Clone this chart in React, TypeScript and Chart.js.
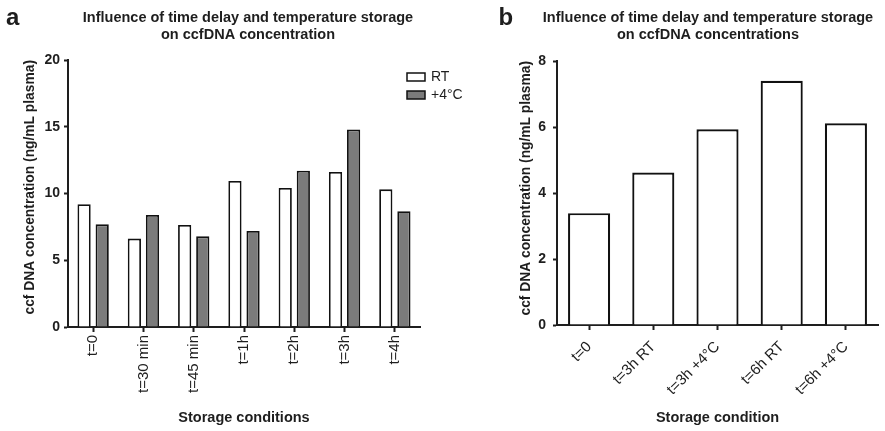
import React, { useEffect, useRef } from "react";
import { Chart, registerables } from "chart.js";

Chart.register(...registerables);

// ---------- Data ----------
const panelACategories = ["t=0", "t=30 min", "t=45 min", "t=1h", "t=2h", "t=3h", "t=4h"];
const panelASeriesNames = ["RT", "+4°C"];
const panelART = [9.19, 6.62, 7.64, 10.94, 10.41, 11.61, 10.31];
const panelA4C = [7.69, 8.39, 6.79, 7.19, 11.71, 14.79, 8.67];
const panelAYTicks = [0, 5, 10, 15, 20];
const panelATitle = ["Influence of time delay and temperature storage", "on ccfDNA concentration"];
const panelAXTitle = "Storage conditions";

const panelBCategories = ["t=0", "t=3h RT", "t=3h +4°C", "t=6h RT", "t=6h +4°C"];
const panelBValues = [3.39, 4.62, 5.93, 7.4, 6.11];
const panelBYTicks = [0, 2, 4, 6, 8];
const panelBTitle = ["Influence of time delay and temperature storage", "on ccfDNA concentrations"];
const panelBXTitle = "Storage condition";

const yTitle = "ccf DNA concentration (ng/mL plasma)";

// ---------- Styles ----------
const FONT = "'Liberation Sans', Arial, Helvetica, sans-serif";
const INK = "#1e1e1e";
const GRAY = "#7b7b7b";

function annotationPlugin(letter: string, letterX: number, lines: string[], titleX: number, withLegend: boolean) {
  return {
    id: "annot-" + letter,
    afterDraw(chart: any) {
      const ctx = chart.ctx;
      ctx.save();
      ctx.fillStyle = INK;
      ctx.textBaseline = "alphabetic";
      ctx.textAlign = "left";
      ctx.font = `bold 24px ${FONT}`;
      ctx.fillText(letter, letterX, 25);
      ctx.textAlign = "center";
      ctx.font = `bold 14.5px ${FONT}`;
      lines.forEach((l, i) => ctx.fillText(l, titleX, 22 + i * 16.5));
      if (withLegend) {
        const ds = chart.data.datasets;
        ds.forEach((d: any, i: number) => {
          const bx = 407;
          const by = 73 + i * 18;
          ctx.fillStyle = d.backgroundColor;
          ctx.fillRect(bx, by, 18, 8);
          ctx.strokeStyle = d.borderColor;
          ctx.lineWidth = 1.5;
          ctx.strokeRect(bx, by, 18, 8);
          ctx.fillStyle = INK;
          ctx.textAlign = "left";
          ctx.textBaseline = "middle";
          ctx.font = `14px ${FONT}`;
          ctx.fillText(d.label, 431, by + 4.5);
        });
      }
      ctx.restore();
    },
  };
}

function axisOptions(
  yTicks: number[],
  xTitle: string,
  rotation: number,
  yWidth: number,
  xHeight: number,
  yTitlePad: number,
  yTickPad: number,
  xTickPad: number
) {
  return {
    x: {
      grid: { display: true, drawOnChartArea: false, offset: false, tickLength: 5, tickWidth: 2, tickColor: INK },
      border: { display: true, color: INK, width: 2 },
      ticks: {
        autoSkip: false,
        maxRotation: rotation,
        minRotation: rotation,
        padding: xTickPad,
        color: INK,
        font: { family: FONT, size: 15 },
      },
      title: {
        display: true,
        text: xTitle,
        color: INK,
        font: { family: FONT, size: 14.5, weight: "bold" },
        padding: { top: 0, bottom: 4 },
      },
      afterFit: (s: any) => {
        s.height = xHeight;
      },
    },
    y: {
      min: yTicks[0],
      max: yTicks[yTicks.length - 1],
      afterBuildTicks: (s: any) => {
        s.ticks = yTicks.map((v) => ({ value: v }));
      },
      grid: { display: true, drawOnChartArea: false, tickLength: 4, tickWidth: 2, tickColor: INK },
      border: { display: true, color: INK, width: 2 },
      ticks: { padding: yTickPad, color: INK, font: { family: FONT, size: 14, weight: "bold" } },
      title: {
        display: true,
        text: yTitle,
        align: "end",
        color: INK,
        font: { family: FONT, size: 13.8, weight: "bold" },
        padding: { top: yTitlePad, bottom: 0 },
      },
      afterFit: (s: any) => {
        s.width = yWidth;
      },
    },
  };
}

function PanelA() {
  const ref = useRef<HTMLCanvasElement | null>(null);
  useEffect(() => {
    if (!ref.current) return;
    const chart = new Chart(ref.current, {
      type: "bar",
      data: {
        labels: panelACategories,
        datasets: [
          {
            label: panelASeriesNames[0],
            data: panelART,
            backgroundColor: "#ffffff",
            borderColor: "#111111",
            borderWidth: 1.8,
            categoryPercentage: 0.72,
            barPercentage: 0.73,
          },
          {
            label: panelASeriesNames[1],
            data: panelA4C,
            backgroundColor: GRAY,
            borderColor: "#111111",
            borderWidth: 1.8,
            categoryPercentage: 0.72,
            barPercentage: 0.73,
          },
        ],
      },
      options: {
        responsive: false,
        animation: false,
        layout: { padding: { top: 60, right: 70, left: 0, bottom: 0 } },
        plugins: { legend: { display: false }, title: { display: false }, tooltip: { enabled: false } },
        scales: axisOptions(panelAYTicks, panelAXTitle, 90, 68, 104, 22, 4, 3) as any,
      },
      plugins: [annotationPlugin("a", 6, panelATitle, 248, true)],
    });
    return () => chart.destroy();
  }, []);
  return (
    <canvas
      ref={ref}
      width={490}
      height={431}
      style={{ position: "absolute", left: 0, top: 0, width: 490, height: 431 }}
    />
  );
}

function PanelB() {
  const ref = useRef<HTMLCanvasElement | null>(null);
  useEffect(() => {
    if (!ref.current) return;
    const chart = new Chart(ref.current, {
      type: "bar",
      data: {
        labels: panelBCategories,
        datasets: [
          {
            label: "ccfDNA",
            data: panelBValues,
            backgroundColor: "#ffffff",
            borderColor: "#111111",
            borderWidth: 2.2,
            categoryPercentage: 0.8,
            barPercentage: 0.82,
          },
        ],
      },
      options: {
        responsive: false,
        animation: false,
        layout: { padding: { top: 61, right: 7, left: 0, bottom: 0 } },
        plugins: { legend: { display: false }, title: { display: false }, tooltip: { enabled: false } },
        scales: axisOptions(panelBYTicks, panelBXTitle, 45, 107, 106, 68, 7, 8) as any,
      },
      plugins: [annotationPlugin("b", 48.5, panelBTitle, 258, false)],
    });
    return () => chart.destroy();
  }, []);
  return (
    <canvas
      ref={ref}
      width={435}
      height={431}
      style={{ position: "absolute", left: 450, top: 0, width: 435, height: 431 }}
    />
  );
}

export default function App() {
  return (
    <div
      style={{
        position: "fixed",
        left: 0,
        top: 0,
        width: 885,
        height: 431,
        background: "#ffffff",
        overflow: "hidden",
      }}
    >
      <PanelA />
      <PanelB />
    </div>
  );
}
